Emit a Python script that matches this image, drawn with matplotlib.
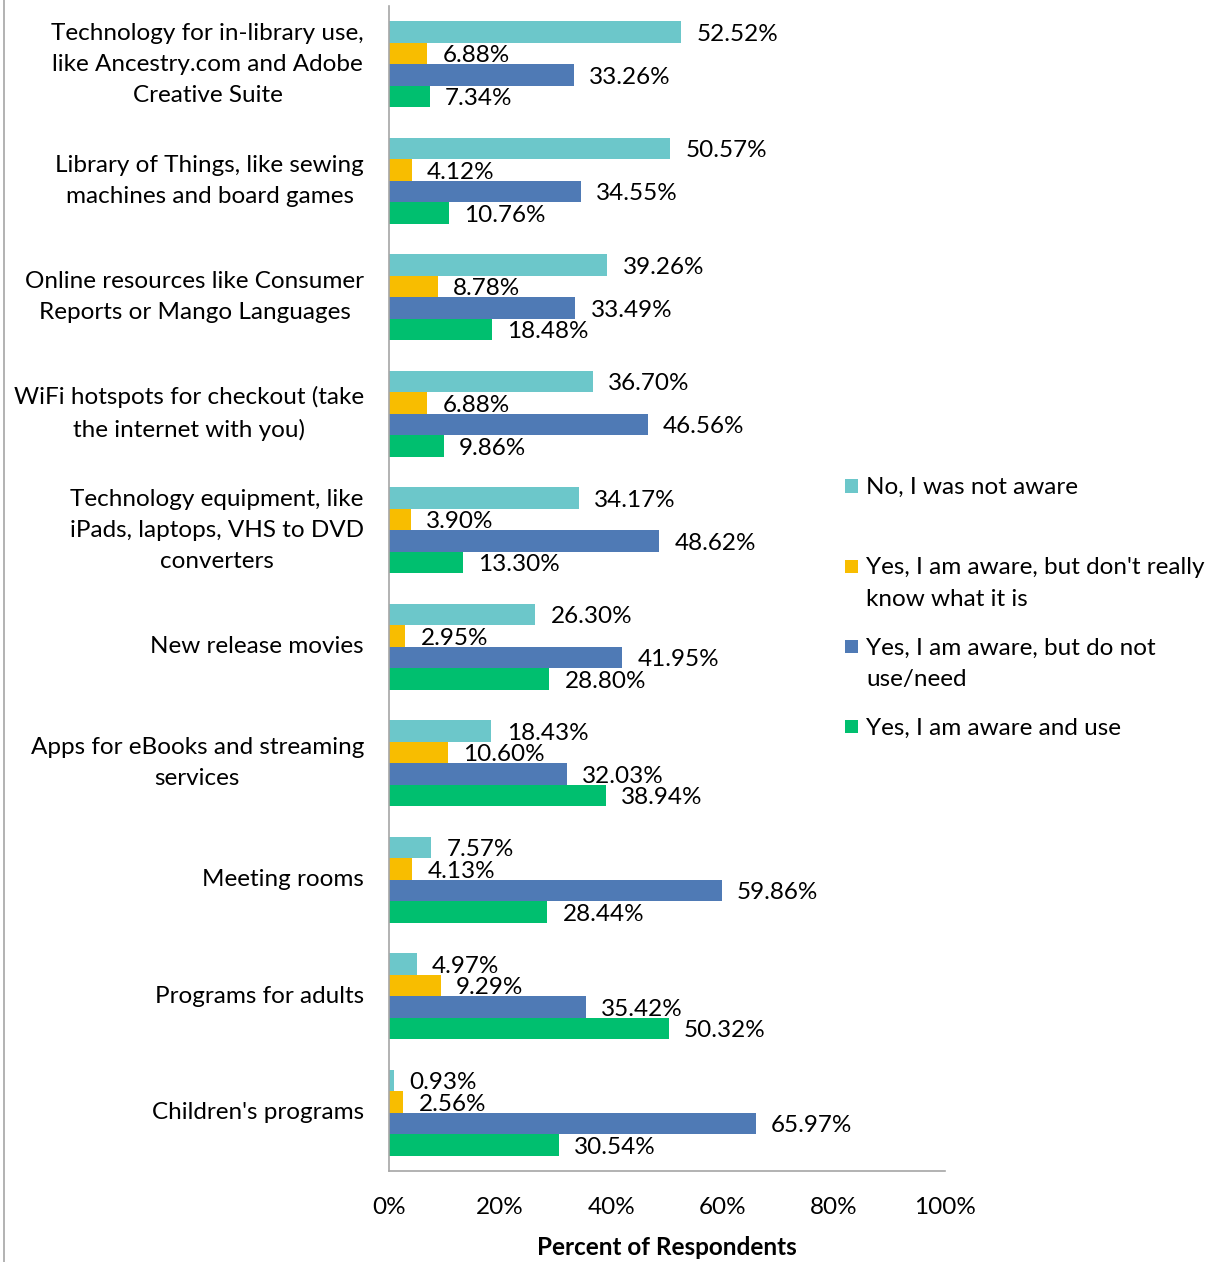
import matplotlib
matplotlib.use("Agg")
import matplotlib.pyplot as plt
import numpy as np
from matplotlib.patches import Rectangle
from matplotlib.lines import Line2D

plt.rcParams['font.family'] = ['Lato', 'DejaVu Sans']

categories = [
    "Technology for in-library use,\nlike Ancestry.com and Adobe\nCreative Suite",
    "Library of Things, like sewing\nmachines and board games",
    "Online resources like Consumer\nReports or Mango Languages",
    "WiFi hotspots for checkout (take\nthe internet with you)",
    "Technology equipment, like\niPads, laptops, VHS to DVD\nconverters",
    "New release movies",
    "Apps for eBooks and streaming\nservices",
    "Meeting rooms",
    "Programs for adults",
    "Children's programs",
]
series_names = [
    "No, I was not aware",
    "Yes, I am aware, but don't really\nknow what it is",
    "Yes, I am aware, but do not\nuse/need",
    "Yes, I am aware and use",
]
not_aware = [52.52, 50.57, 39.26, 36.70, 34.17, 26.30, 18.43, 7.57, 4.97, 0.93]
aware_dont_know = [6.88, 4.12, 8.78, 6.88, 3.90, 2.95, 10.60, 4.13, 9.29, 2.56]
aware_not_use = [33.26, 34.55, 33.49, 46.56, 48.62, 41.95, 32.03, 59.86, 35.42, 65.97]
aware_use = [7.34, 10.76, 18.48, 9.86, 13.30, 28.80, 38.94, 28.44, 50.32, 30.54]
colors = ["#6CC7CA", "#F8BD00", "#4F7AB5", "#00BF6F"]
xticks = [0, 20, 40, 60, 80, 100]

series = [not_aware, aware_dont_know, aware_not_use, aware_use]

fig = plt.figure(figsize=(12.2, 12.62), dpi=100)
W, H = 1220, 1262
ax = fig.add_axes([389 / W, 1 - 1171 / H, (945 - 389) / W, (1171 - 6) / H])

n = len(categories)
y = np.arange(n)
bh = 0.185
fs = 17.5
for i, (vals, col) in enumerate(zip(series, colors)):
    pos = y - 1.5 * bh + i * bh
    ax.barh(pos, vals, height=bh, color=col, edgecolor='none')
    for p, v in zip(pos, vals):
        ax.annotate(f"{v:.2f}%", (v, p), xytext=(11, -1.5), textcoords='offset points',
                    va='center', ha='left', fontsize=fs, color='black')

ax.set_ylim(n - 0.5, -0.5)
ax.set_xlim(0, 100)
ax.set_yticks(y)
ax.set_yticklabels(categories, fontsize=fs, ha='right', va='center',
                   multialignment='center', linespacing=1.6)
ax.tick_params(axis='y', length=0, pad=18)
ax.set_xticks(xticks)
ax.set_xticklabels([f"{t}%" for t in xticks], fontsize=fs)
ax.tick_params(axis='x', length=0, pad=19)
ax.set_xlabel("Percent of Respondents", fontsize=fs, fontweight='bold', labelpad=13)
for s in ['top', 'right']:
    ax.spines[s].set_visible(False)
for s in ['left', 'bottom']:
    ax.spines[s].set_color('#A6A6A6')
    ax.spines[s].set_linewidth(1.2)

# legend (Excel-style: evenly spaced entries)
for i, (name, col) in enumerate(zip(series_names, colors)):
    yc = 486 + 80.3 * i
    fig.add_artist(Rectangle((845 / W, 1 - (yc + 6.5) / H), 13 / W, 13 / H,
                             facecolor=col, edgecolor='none', transform=fig.transFigure))
    fig.text(866 / W, 1 - (yc - 9) / H, name, fontsize=fs, va='top', ha='left',
             linespacing=1.6)

fig.add_artist(Line2D([4 / W, 4 / W], [0, 1], color='#A6A6A6', lw=1.2, transform=fig.transFigure))

fig.savefig("out.png", dpi=100)
